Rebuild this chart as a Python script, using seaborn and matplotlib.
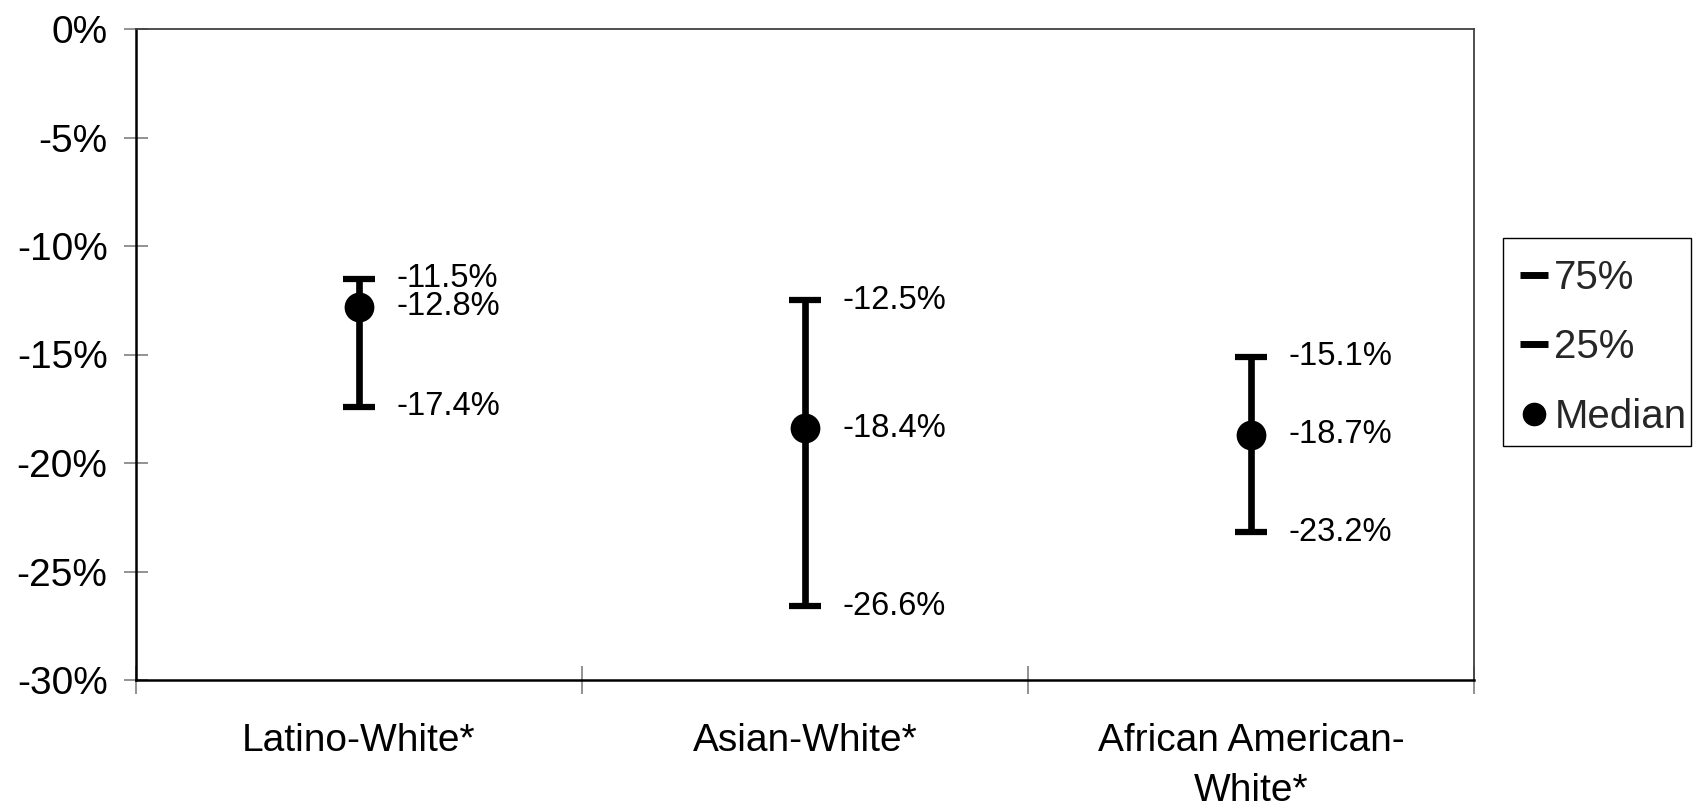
import matplotlib
matplotlib.use("Agg")
import matplotlib.pyplot as plt
from matplotlib.lines import Line2D
from matplotlib.patches import Rectangle
import seaborn as sns
import pandas as pd

# Gap ranges by group (percent)
groups = ["Latino-White*", "Asian-White*", "African American-\nWhite*"]
q75 = [-11.5, -12.5, -15.1]
median = [-12.8, -18.4, -18.7]
q25 = [-17.4, -26.6, -23.2]
y_ticks = [0, -5, -10, -15, -20, -25, -30]

sns.set_theme(style="white")
plt.rcParams["font.family"] = ["Liberation Sans", "DejaVu Sans"]

df = pd.DataFrame({"pos": range(len(groups)), "group": groups,
                   "q75": q75, "median": median, "q25": q25})

W, H = 1700, 811
fig = plt.figure(figsize=(W / 100, H / 100), dpi=100)
ax = fig.add_axes([136 / W, 1 - 680 / H, (1474 - 136) / W, (680 - 29) / H])

# high-low lines
ax.vlines(df["pos"], df["q25"], df["q75"], color="black", linewidth=4.8, zorder=2)
# quartile caps
sns.scatterplot(data=df, x="pos", y="q75", marker="_", s=560, color="black",
                linewidth=4.5, ax=ax, zorder=3, legend=False)
sns.scatterplot(data=df, x="pos", y="q25", marker="_", s=560, color="black",
                linewidth=4.5, ax=ax, zorder=3, legend=False)
# medians
sns.scatterplot(data=df, x="pos", y="median", marker="o", s=460, color="black",
                edgecolor="black", linewidth=0, ax=ax, zorder=4, legend=False)

# value labels
for _, r in df.iterrows():
    for col in ("q75", "median", "q25"):
        v = r[col]
        ax.annotate(f"{v:.1f}%", (r["pos"], v), xytext=(27, 0),
                    textcoords="offset points", va="center", ha="left",
                    fontsize=23.5, color="black")

ax.set_xlim(-0.5, len(groups) - 0.5)
ax.set_ylim(-30, 0)
ax.set_yticks(y_ticks)
ax.set_yticklabels([f"{t}%" for t in y_ticks])
ax.set_xticks([i - 0.5 for i in range(len(groups) + 1)])
ax.set_xticklabels([])
ax.set_xticks(range(len(groups)), minor=True)
ax.set_xticklabels(groups, minor=True, fontsize=28, linespacing=1.5)
ax.set_xlabel("")
ax.set_ylabel("")

ax.tick_params(axis="y", which="major", direction="inout", length=17, width=1.2,
               color="#808080", pad=12, labelsize=28, labelcolor="black", left=True)
ax.tick_params(axis="x", which="major", direction="inout", length=20, width=1.2,
               color="#808080", bottom=True)
ax.tick_params(axis="x", which="minor", length=0, pad=31, labelcolor="black", bottom=True)

for side in ("left", "bottom"):
    ax.spines[side].set_color("black")
    ax.spines[side].set_linewidth(1.8)
for side in ("top", "right"):
    ax.spines[side].set_color("#404040")
    ax.spines[side].set_linewidth(1.3)
ax.grid(False)

# legend entries, with a plain square box drawn around them
handles = [
    Line2D([], [], linestyle="none", marker="_", markersize=20, markeredgewidth=5,
           color="black"),
    Line2D([], [], linestyle="none", marker="_", markersize=20, markeredgewidth=5,
           color="black"),
    Line2D([], [], linestyle="none", marker="o", markersize=16, color="black"),
]
fig.legend(handles, ["75%", "25%", "Median"], loc="upper left",
           bbox_to_anchor=(1518 / W, 1 - 259 / H), fontsize=29,
           frameon=False, handlelength=0.8, handletextpad=0.1,
           labelspacing=0.78, borderpad=0, borderaxespad=0)
fig.patches.append(Rectangle((1503 / W, 1 - 446 / H), 188 / W, 208 / H,
                             transform=fig.transFigure, fill=False,
                             edgecolor="black", linewidth=1.0))

fig.savefig("out.png", dpi=100, facecolor="white")
